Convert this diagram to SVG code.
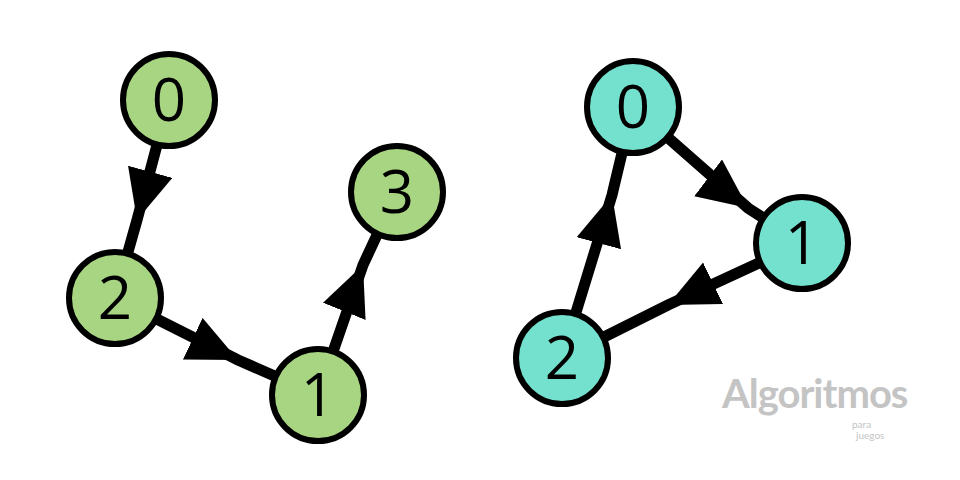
<svg xmlns="http://www.w3.org/2000/svg" width="960" height="480" viewBox="0 0 960 480">
<style>
.e{stroke:#000;stroke-width:11;fill:none;marker-mid:url(#a)}
.n circle{stroke:#000;stroke-width:6}
.g circle{fill:#a8d582}.t circle{fill:#74e0ce}
.n text{font-family:"Open Sans","Liberation Sans",sans-serif;font-size:60px;text-anchor:middle;fill:#000}
.logo{font-family:"Lato","Liberation Sans",sans-serif;fill:#c4c4c4}
</style>
<defs><marker id="a" markerUnits="userSpaceOnUse" markerWidth="56" markerHeight="50" refX="50" refY="23" orient="auto"><path d="M0,0 L50,23 L0,46z" fill="#000"/></marker></defs>
<rect width="960" height="480" fill="#fff"/>
<g id="edges">
<path class="e" d="M169,100 L137,220 L115,298"/>
<path class="e" d="M115,298 L238,360 L318,395"/>
<path class="e" d="M318,395 L363,265 L397,192"/>
<path class="e" d="M633,107 L748,208 L802,243"/>
<path class="e" d="M802,243 L668,305 L562,358"/>
<path class="e" d="M562,358 L612,195 L633,107"/>
</g>
<g id="L0" class="n g"><circle cx="169" cy="100" r="46"/><text x="169" y="121">0</text></g>
<g id="L2" class="n g"><circle cx="115" cy="298" r="46"/><text x="115" y="319">2</text></g>
<g id="L1" class="n g"><circle cx="318" cy="395" r="46"/><text x="318" y="416">1</text></g>
<g id="L3" class="n g"><circle cx="397" cy="192" r="46"/><text x="397" y="213">3</text></g>
<g id="R0" class="n t"><circle cx="633" cy="107" r="46"/><text x="633" y="128">0</text></g>
<g id="R1" class="n t"><circle cx="802" cy="243" r="46"/><text x="802" y="264">1</text></g>
<g id="R2" class="n t"><circle cx="562" cy="358" r="46"/><text x="562" y="379">2</text></g>
<g id="logo">
<text class="logo" x="722" y="408" font-size="40" font-weight="bold" letter-spacing="-1">Algoritmos</text>
<text class="logo" x="852" y="428" font-size="10">para</text>
<text class="logo" x="856" y="439" font-size="10">juegos</text>
</g>
</svg>
